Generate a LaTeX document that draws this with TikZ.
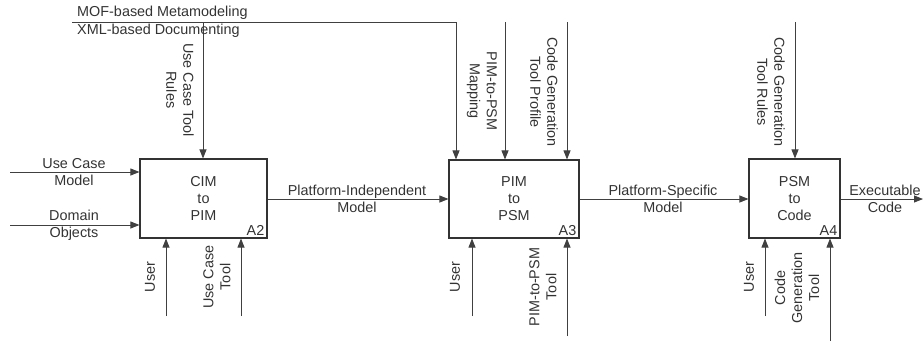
\documentclass[tikz,border=0pt]{standalone}
\usepackage{fontspec}
\setmainfont{Liberation Sans}
\usetikzlibrary{arrows.meta}
\begin{document}
\begin{tikzpicture}[x=1pt,y=-1pt,
  every node/.style={font=\fontsize{14.4}{17}\selectfont, text=black!80},
  flow/.style={draw=black!75, line width=0.9pt, -{Triangle[length=9pt,width=7pt]}},
  activity/.style={draw=black!80, line width=1.1pt, align=center, inner sep=0pt},
  lab/.style={align=center, inner sep=0pt},
  dlab/.style={lab, rotate=-90},
  ulab/.style={lab, rotate=90},
  tag/.style={anchor=south east, inner sep=0pt}
]
\useasboundingbox (0,0) rectangle (923,341);

% activity boxes
\node[activity, minimum width=127pt, minimum height=79pt] (a2) at (203.5,198.5) {CIM\\to\\PIM};
\node[activity, minimum width=130pt, minimum height=78pt] (a3) at (514,199) {PIM\\to\\PSM};
\node[activity, minimum width=91pt, minimum height=79pt] (a4) at (794.5,198.5) {PSM\\to\\Code};
\node[tag] at ([shift={(-3,-2.5)}]a2.south east) {A2};
\node[tag] at ([shift={(-3,-2.5)}]a3.south east) {A3};
\node[tag] at ([shift={(-3,-2.5)}]a4.south east) {A4};

% free ends of the connectors
\coordinate (mofstart) at (72,22);
\coordinate (mofcorner) at (456,22);
\coordinate (uctr) at (203,22);
\coordinate (mapin) at (505,22);
\coordinate (cgprof) at (567,22);
\coordinate (cgrules) at (795,22);
\coordinate (ucmin) at (10,172);
\coordinate (domin) at (10,225);
\coordinate (execout) at (923,199);
\coordinate (user2) at (166,316);
\coordinate (uctool) at (241,316);
\coordinate (user3) at (472,316);
\coordinate (p2ptool) at (567,336);
\coordinate (user4) at (765,316);
\coordinate (cgtool) at (830,341);

% controls from the top
\draw[flow] (mofstart) -- (mofcorner) -- (a3.north -| mofcorner);
\draw[flow] (uctr) -- (a2.north -| uctr);
\draw[flow] (mapin) -- (a3.north -| mapin);
\draw[flow] (cgprof) -- (a3.north -| cgprof);
\draw[flow] (cgrules) -- (a4.north -| cgrules);

% inputs and outputs
\draw[flow] (ucmin) -- (a2.west |- ucmin);
\draw[flow] (domin) -- (a2.west |- domin);
\draw[flow] (a2.east |- 0,199) -- (a3.west |- 0,199);
\draw[flow] (a3.east |- 0,199) -- (a4.west |- 0,199);
\draw[flow] (a4.east |- execout) -- (execout);

% mechanisms from below
\draw[flow] (user2) -- (a2.south -| user2);
\draw[flow] (uctool) -- (a2.south -| uctool);
\draw[flow] (user3) -- (a3.south -| user3);
\draw[flow] (p2ptool) -- (a3.south -| p2ptool);
\draw[flow] (user4) -- (a4.south -| user4);
\draw[flow] (cgtool) -- (a4.south -| cgtool);

% labels
\node[lab, anchor=west] at (77,13) {MOF-based Metamodeling};
\node[lab, anchor=west] at (77,31) {XML-based Documenting};
\node[dlab] at (180,90) {Use Case Tool\\Rules};
\node[dlab] at (482,91) {PIM-to-PSM\\Mapping};
\node[dlab] at (544,92) {Code Generation\\Tool Profile};
\node[dlab] at (771,92) {Code Generation\\Tool Rules};

\node[lab] at (74,172) {Use Case\\Model};
\node[lab] at (74,225) {Domain\\Objects};
\node[lab] at (357,199) {Platform-Independent\\Model};
\node[lab] at (663,199) {Platform-Specific\\Model};
\node[lab] at (885,199) {Executable\\Code};

\node[ulab] at (150,277) {User};
\node[ulab] at (217,277) {Use Case\\Tool};
\node[ulab] at (455,277) {User};
\node[ulab] at (543,287) {PIM-to-PSM\\Tool};
\node[ulab] at (749,277) {User};
\node[ulab] at (797,288) {Code\\Generation\\Tool};
\end{tikzpicture}
\end{document}
